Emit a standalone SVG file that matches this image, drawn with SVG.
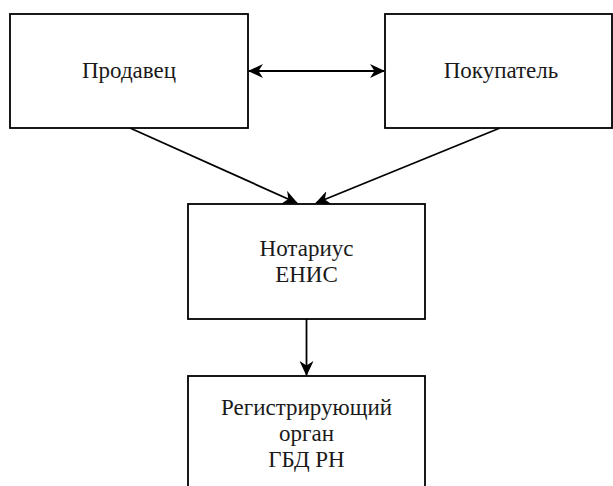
<svg xmlns="http://www.w3.org/2000/svg" width="613" height="486" viewBox="0 0 613 486">
  <style>
    .box { fill: #ffffff; stroke: #000000; stroke-width: 1.8; }
    .lbl { font-family: "Liberation Serif", "Times New Roman", serif; font-size: 23px; fill: #1a1a1a; text-anchor: middle; }
    .edge { fill: none; stroke: #000000; stroke-width: 1.8; }
  </style>
  <defs>
    <marker id="arrow" viewBox="0 0 15 14" refX="14" refY="7" markerWidth="15" markerHeight="14" markerUnits="userSpaceOnUse" orient="auto-start-reverse">
      <path d="M0,0 L15,7 L0,14 L4.5,7 Z" fill="#000000"/>
    </marker>
  </defs>
  <rect width="613" height="486" fill="#ffffff"/>

  <g id="connectors">
    <line class="edge" x1="249" y1="71" x2="384" y2="71" marker-start="url(#arrow)" marker-end="url(#arrow)"/>
    <line class="edge" x1="130" y1="128" x2="297" y2="203" marker-end="url(#arrow)"/>
    <line class="edge" x1="500" y1="128" x2="316" y2="203" marker-end="url(#arrow)"/>
    <line class="edge" x1="306.5" y1="319" x2="306.5" y2="375" marker-end="url(#arrow)"/>
  </g>

  <g id="seller">
    <rect class="box" x="10" y="14" width="238" height="114"/>
    <text class="lbl" x="129" y="78">Продавец</text>
  </g>

  <g id="buyer">
    <rect class="box" x="385" y="14" width="227" height="114"/>
    <text class="lbl" x="501" y="78">Покупатель</text>
  </g>

  <g id="notary">
    <rect class="box" x="188" y="204" width="237" height="115"/>
    <text class="lbl" x="306.5" y="256">Нотариус</text>
    <text class="lbl" x="306.5" y="282">ЕНИС</text>
  </g>

  <g id="registry">
    <rect class="box" x="188" y="376" width="237" height="120"/>
    <text class="lbl" x="306.5" y="415">Регистрирующий</text>
    <text class="lbl" x="306.5" y="441">орган</text>
    <text class="lbl" x="306.5" y="467">ГБД РН</text>
  </g>
</svg>
